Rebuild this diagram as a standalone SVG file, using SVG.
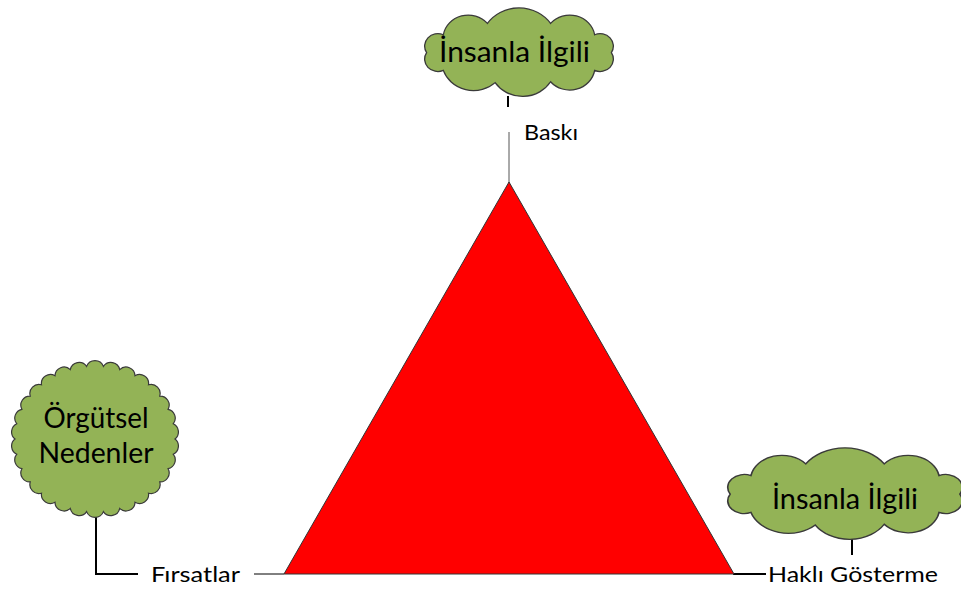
<svg xmlns="http://www.w3.org/2000/svg" width="961" height="592" viewBox="0 0 961 592">
<style>
.cloud{fill:#93B356;stroke:#3a3a3a;stroke-width:1.2;vector-effect:non-scaling-stroke}
.big{font-family:Lato,"Noto Sans",sans-serif;font-size:28px;fill:#000}
.lbl{font-family:Lato,"Noto Sans",sans-serif;font-size:21px;fill:#000}
.thick{stroke:#000;stroke-width:2;fill:none}
.thin{stroke:#000;stroke-width:1;fill:none}
</style>
<defs>
<path id="cl" d="M184,45 A12,12 0 0 1 168.8,62.2 A23,23 0 0 1 128.7,73.2 A30,30 0 0 1 78.3,74 A29,29 0 0 1 31.2,62.2 A12,12 0 0 1 16,45 A12,12 0 0 1 31.2,27.8 A23,23 0 0 1 71.3,16.8 A35,35 0 0 1 128.7,16.8 A23,23 0 0 1 168.8,27.8 A12,12 0 0 1 184,45 Z"/>
</defs>
<rect width="961" height="592" fill="#fff"/>
<g id="connectors">
<line class="thick" x1="508" y1="96" x2="508" y2="107"/>
<line x1="509" y1="132" x2="509" y2="183" stroke="#555" stroke-width="1"/>
<polyline class="thick" points="96,516 96,574 138,574"/>
<line class="thin" x1="254" y1="574" x2="284" y2="574"/>
<line class="thick" x1="733" y1="574" x2="766" y2="574"/>
<line class="thick" x1="852" y1="538" x2="852" y2="555"/>
</g>
<g id="triangle">
<polygon points="509,182 284,574 734,574" fill="#FF0000" stroke="#333" stroke-width="1"/>
</g>
<g id="cloud-top">
<use href="#cl" class="cloud" transform="translate(409,6) scale(1.1,1.035)"/>
<text class="big" x="514.5" y="62" text-anchor="middle" textLength="151" lengthAdjust="spacingAndGlyphs">İnsanla İlgili</text>
</g>
<g id="cloud-left">
<path class="cloud" d="M175,439 A9,9 0 0 1 173.2,454.2 A9,9 0 0 1 168.1,468.7 A9,9 0 0 1 159.7,481.9 A9,9 0 0 1 148.5,493.2 A9,9 0 0 1 135,502.2 A9,9 0 0 1 119.7,508.4 A9,9 0 0 1 103.4,511.6 A9,9 0 0 1 86.6,511.6 A9,9 0 0 1 70.3,508.4 A9,9 0 0 1 55,502.2 A9,9 0 0 1 41.5,493.2 A9,9 0 0 1 30.3,481.9 A9,9 0 0 1 21.9,468.7 A9,9 0 0 1 16.8,454.2 A9,9 0 0 1 15,439 A9,9 0 0 1 16.8,423.8 A9,9 0 0 1 21.9,409.3 A9,9 0 0 1 30.3,396.1 A9,9 0 0 1 41.5,384.8 A9,9 0 0 1 55,375.8 A9,9 0 0 1 70.3,369.6 A9,9 0 0 1 86.6,366.4 A9,9 0 0 1 103.4,366.4 A9,9 0 0 1 119.7,369.6 A9,9 0 0 1 135,375.8 A9,9 0 0 1 148.5,384.8 A9,9 0 0 1 159.7,396.1 A9,9 0 0 1 168.1,409.3 A9,9 0 0 1 173.2,423.8 A9,9 0 0 1 175,439 Z"/>
<text class="big" x="96" y="428" text-anchor="middle" textLength="105" lengthAdjust="spacingAndGlyphs">Örgütsel</text>
<text class="big" x="96" y="463" text-anchor="middle" textLength="115" lengthAdjust="spacingAndGlyphs">Nedenler</text>
</g>
<g id="cloud-right">
<use href="#cl" class="cloud" transform="translate(708.3,445.9) scale(1.367,1.07)"/>
<text class="big" x="845" y="509" text-anchor="middle" textLength="146" lengthAdjust="spacingAndGlyphs">İnsanla İlgili</text>
</g>
<g id="labels">
<text class="lbl" x="524" y="140" textLength="54" lengthAdjust="spacingAndGlyphs">Baskı</text>
<text class="lbl" x="151" y="582" textLength="89" lengthAdjust="spacingAndGlyphs">Fırsatlar</text>
<text class="lbl" x="768" y="582" textLength="170" lengthAdjust="spacingAndGlyphs">Haklı Gösterme</text>
</g>
</svg>
